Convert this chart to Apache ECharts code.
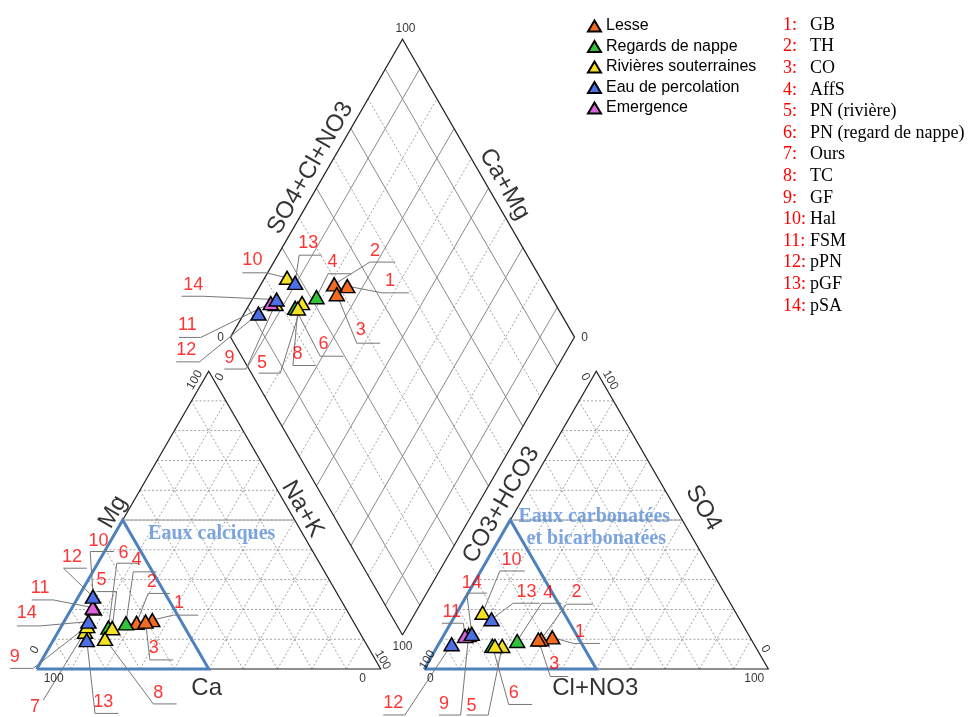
<!DOCTYPE html>
<html><head><meta charset="utf-8">
<script src="https://cdn.jsdelivr.net/npm/echarts/dist/echarts.min.js"></script>
<style>html,body{margin:0;padding:0;background:#fff}#c{width:970px;height:717px}</style>
</head><body><div id="c"></div>
<script>
// ---------------- DATA ----------------
const sampleIds   = [1,2,3,4,5,6,7,8,9,10,11,12,13,14];
const sampleNames = ['GB','TH','CO','AffS','PN (rivière)','PN (regard de nappe)','Ours','TC','GF','Hal','FSM','pPN','pGF','pSA'];
const groups      = ['Lesse','Regards de nappe','Rivières souterraines','Eau de percolation','Emergence'];
const sampleGroup = ['Lesse','Lesse','Lesse','Regards de nappe','Rivières souterraines','Regards de nappe','Rivières souterraines','Rivières souterraines','Rivières souterraines','Rivières souterraines','Emergence','Eau de percolation','Eau de percolation','Eau de percolation'];
// cations (% meq)
const caPct   = [58.2,63.2,60.4,66.4,71.2,72.2,79.7,75.1,78.1,73.2,73.4,71.5,80.6,77.0];
const mgPct   = [16.4,15.5,15.9,15.3,13.7,13.9,12.5,10.1,14.4,20.3,20.6,24.3, 9.7,15.9];
const nakPct  = [25.4,21.3,23.7,18.3,15.1,13.9, 7.8,14.8, 7.5, 6.5, 6.0, 4.2, 9.7, 7.1];
// anions (% meq)  (sample 7 : cations only)
const hco3Pct = [57.5,61.0,61.9,68.3,73.5,76.3,null,75.6,81.4,73.6,82.6,87.9,72.1,80.3];
const so4Pct  = [10.6,10.0, 9.9, 9.4, 7.7, 7.8,null, 7.7,11.4,18.9,11.1, 8.3,16.7,11.8];
const clPct   = [31.9,29.0,28.2,22.3,18.8,15.9,null,16.7, 7.2, 7.5, 6.3, 3.8,11.2, 7.9];
const gridTicks = [10,20,30,40,50,60,70,80,90];
const diamondSolidTicks = [10,30,50,70,90];
const tickEnds  = ['0','100'];

// ---------------- LAYOUT ----------------
const S = 3.44, OX = 36.7, OY = 669, CW = 970, CH = 717;
const H = Math.sqrt(3)/2;
const GAP = 12.67, XR = 100 + GAP, XB = 100 + GAP/2, YB = 9.88;
const groupColors = {'Lesse':'#f26b21','Regards de nappe':'#33c33a','Rivières souterraines':'#f3e21f','Eau de percolation':'#4d6fe6','Emergence':'#de62dc'};
const drawOrder = ['Lesse','Regards de nappe','Rivières souterraines','Emergence','Eau de percolation'];
// label layouts (pixel offsets from point): [textDx,textDy,kneeDx,kneeDy,segEndDx]
const leftLabelLayout = {1:[26.7,-16.7,21,-5,46],2:[15,-41,11.6,-29.4,33.3],3:[8.3,26.6,4.3,38.3,27.6],4:[10.7,-63.3,7.3,-51.6,30.7],
 5:[-10.6,-48.3,4.4,-36.6,-15.6],6:[15,-74.4,8.4,-64.4,30],7:[-50,75,-41.7,68.3,-41.7],8:[53.3,54.3,48.3,65,71.7],
 9:[-72.5,30.7,-54.2,42.3,-77.5],10:[4.5,-67.7,-3.8,-57,20],11:[-52.7,-19.4,-39.4,-7.7,-61],12:[-21,-40,-29.4,-28.4,-6],
 13:[16.6,61.7,8.3,73.3,31.6],14:[-61.6,-8.4,-48.3,4.3,-71.6]};
const rightLabelLayout = {1:[27.7,-5.6,21,6,47.7],2:[35.2,-46.7,25.2,-35,51.8],3:[16,25,12,37,30],4:[31,-47.7,24.4,-37.7,44.4],
 5:[-30.6,59.7,-14,69,-35.6],6:[21.3,47,16.3,58.7,39.7],9:[-24.7,69,-8,80,-29.7],10:[29,-52.7,17.3,-41.7,42.3],
 11:[-13.3,-24.3,-1.7,-12.7,-23.3],12:[-58.4,59,-46.7,70.7,-68.4],13:[35,-27.6,21.6,-16,48.3],14:[0,-50.7,-5,-40.7,15]};
const diamondLabelLayout = {1:[42.6,-5,35,6.7,61.6],2:[40.7,-33.3,35.7,-22.3,61],3:[24,36.3,20,49,43.4],4:[16,-35,11.6,-23.4,35],
 5:[-40,60,-21.7,70,-43.4],6:[28.3,36.6,25,48.3,48.3],8:[-0.4,46,-5,57,17.3],9:[-46,54.3,-29.3,65,-51],
 10:[-34.7,-18,-20.7,-5,-44.7],11:[-83.4,21.6,-70,34.3,-91.7],12:[-72.3,36.7,-59,48.3,-82.3],13:[13,-40,4,-27.7,26.4],14:[-83.4,-15,-73.4,-3.3,-95]};

// ---------------- GEOMETRY ----------------
function L(ca, mg, nak){ return [nak + mg/2, mg*H]; }
function R(hco3, so4, cl){ return [XR + cl + so4/2, so4*H]; }
function D(nak, so4cl){ const camg = 100 - nak; return [XB + 0.5*(so4cl - camg), YB + H*(so4cl + camg)]; }
function off(p, dx, dy){ return [p[0] + dx/S, p[1] - dy/S]; }

function pos(i, panel){
  if (panel === 'L') return L(caPct[i], mgPct[i], nakPct[i]);
  if (hco3Pct[i] == null) return null;
  if (panel === 'R') return R(hco3Pct[i], so4Pct[i], clPct[i]);
  return D(nakPct[i], so4Pct[i] + clPct[i]);
}

const dotted = [], dSolid = [], outline = [], annoGray = [], blueTri = [], leaders = [], numLabels = [];
gridTicks.forEach(k => {
  dotted.push({coords:[L(100-k,k,0), L(0,k,100-k)]});
  dotted.push({coords:[L(100-k,0,k), L(0,100-k,k)]});
  dotted.push({coords:[L(k,0,100-k), L(k,100-k,0)]});
  dotted.push({coords:[R(100-k,k,0), R(0,k,100-k)]});
  dotted.push({coords:[R(100-k,0,k), R(0,100-k,k)]});
  dotted.push({coords:[R(k,0,100-k), R(k,100-k,0)]});
  const target = diamondSolidTicks.indexOf(k) >= 0 ? dSolid : dotted;
  target.push({coords:[D(100-k,0), D(100-k,100)]});
  target.push({coords:[D(0,k), D(100,k)]});
});
outline.push({coords:[L(100,0,0), L(0,0,100), L(0,100,0), L(100,0,0)]});
outline.push({coords:[R(100,0,0), R(0,0,100), R(0,100,0), R(100,0,0)]});
outline.push({coords:[D(100,0), D(0,0), D(0,100), D(100,100), D(100,0)]});
annoGray.push({coords:[L(50,50,0), L(0,50,50)]});
annoGray.push({coords:[R(50,50,0), R(0,50,50)]});
blueTri.push({coords:[L(100,0,0), L(50,50,0), L(50,0,50), L(100,0,0)]});
blueTri.push({coords:[R(100,0,0), R(50,50,0), R(50,0,50), R(100,0,0)]});

[['L',leftLabelLayout],['R',rightLabelLayout],['D',diamondLabelLayout]].forEach(([panel, lay]) => {
  sampleIds.forEach((id, i) => {
    const l = lay[id]; const p = pos(i, panel);
    if (!l || !p) return;
    const k = off(p, l[2], l[3]), a = off(p, l[4], l[3]);
    leaders.push({coords:[p, k, a]});
    numLabels.push({value: off(p, l[0], l[1]), name: String(id)});
  });
});

function txt(p, text, opt){
  return {value:p, label:Object.assign({show:true, formatter:text, position:'inside', color:'#000',
    fontFamily:'Liberation Sans, Arial, sans-serif', fontSize:12}, opt||{})};
}
const serifBlue = {fontFamily:'Liberation Serif, serif', fontWeight:'bold', fontSize:20, color:'#5b8ed8'};
const texts = [
  txt(off(D(0,100),3,-10), tickEnds[1]), txt(off(D(0,0),-10,1), tickEnds[0]),
  txt(off(D(100,100),10,1), tickEnds[0]), txt(off(D(100,0),0,12), tickEnds[1]),
  txt(off(L(0,100,0),-14,9), tickEnds[1], {rotate:60}), txt(off(L(0,100,0),11,6), tickEnds[0], {rotate:60}),
  txt(off(L(100,0,0),-2,-19), tickEnds[0], {rotate:60}), txt(off(L(100,0,0),17,10), tickEnds[1]),
  txt(off(L(0,0,100),-18,10), tickEnds[0]), txt(off(L(0,0,100),2,-9), tickEnds[1], {rotate:-60}),
  txt(off(R(100,0,0),3,-9), tickEnds[1], {rotate:60}), txt(off(R(100,0,0),6,10), tickEnds[0]),
  txt(off(R(0,100,0),-11,6), tickEnds[0], {rotate:-60}), txt(off(R(0,100,0),14,9), tickEnds[1], {rotate:-60}),
  txt(off(R(0,0,100),-3,-20), tickEnds[0], {rotate:-60}), txt(off(R(0,0,100),-14,10), tickEnds[1]),
  txt(off(L(100,0,0),76.3,-157), 'Mg', {rotate:60, fontSize:24}),
  txt(off(L(0,0,100),-78.2,-160), 'Na+K', {rotate:-60, fontSize:24}),
  txt(off(L(100,0,0),170,19), 'Ca', {fontSize:24}),
  txt(off(D(0,0),80,-169), 'SO4+Cl+NO3', {rotate:60, fontSize:24}),
  txt(off(D(0,100),102,145), 'Ca+Mg', {rotate:-60, fontSize:24}),
  txt(off(R(100,0,0),77,-164), 'CO3+HCO3', {rotate:60, fontSize:24}),
  txt(off(R(0,0,100),-65,-161), 'SO4', {rotate:-60, fontSize:24}),
  txt(off(R(100,0,0),171,19), 'Cl+NO3', {fontSize:24}),
  txt(off(L(100,0,0),175,-135), 'Eaux calciques', serifBlue),
  txt(off(R(100,0,0),170,-152), 'Eaux carbonatées', serifBlue),
  txt(off(R(100,0,0),172,-130), 'et bicarbonatées', serifBlue)
];

const pointSeries = drawOrder.map(g => {
  const data = [];
  ['L','R','D'].forEach(panel => sampleIds.forEach((id, i) => {
    if (sampleGroup[i] !== g) return;
    const p = pos(i, panel); if (p) data.push({value:p, name:sampleNames[i]});
  }));
  return {type:'scatter', name:g, data, symbol:'triangle', symbolSize:[15,13], z:10,
    itemStyle:{color:groupColors[g], borderColor:'#000', borderWidth:1.5, opacity:1}};
});

const ln = (data, style, z) => ({type:'lines', coordinateSystem:'cartesian2d', polyline:true, silent:true, z,
  data, lineStyle:Object.assign({opacity:1}, style)});

const graphics = [];
sampleIds.forEach((id, i) => {
  const y = 25 + 21.6*i;
  graphics.push({type:'text', x:783, y, style:{text:id+':', fill:'#ff0000', font:'18px "Liberation Serif", serif', verticalAlign:'middle'}});
  graphics.push({type:'text', x:810, y, style:{text:sampleNames[i], fill:'#000', font:'18px "Liberation Serif", serif', verticalAlign:'middle'}});
});

const chart = echarts.init(document.getElementById('c'), null, {renderer:'canvas'});
chart.setOption({
  animation:false,
  backgroundColor:'#fff',
  grid:{left:0,right:0,top:0,bottom:0},
  xAxis:{type:'value', min:-OX/S, max:(CW-OX)/S, show:false},
  yAxis:{type:'value', min:-(CH-OY)/S, max:OY/S, show:false},
  legend:{data:groups, orient:'vertical', left:582, top:13, icon:'triangle', itemWidth:13, itemHeight:11, itemGap:4.5,
    textStyle:{fontSize:16, fontFamily:'Liberation Sans, Arial, sans-serif', color:'#000'}},
  graphic:graphics,
  series:[
    ln(dotted, {color:'#8a8a8a', width:0.8, type:[2,2]}, 1),
    ln(dSolid, {color:'#8a8a8a', width:1}, 1),
    ln(annoGray, {color:'#9a9a9a', width:1}, 2),
    ln(outline, {color:'#222', width:1.2}, 3),
    ln(blueTri, {color:'#4f81bd', width:3}, 4),
    ln(leaders, {color:'#777', width:1}, 5),
    {type:'scatter', silent:true, symbolSize:0, data:texts, z:6},
    ...pointSeries,
    {type:'scatter', silent:true, symbolSize:0, z:12, data:numLabels,
      label:{show:true, position:'inside', formatter:'{b}', color:'#ff0000', fontSize:18, fontFamily:'Liberation Sans, Arial, sans-serif'}}
  ]
});
</script></body></html>
